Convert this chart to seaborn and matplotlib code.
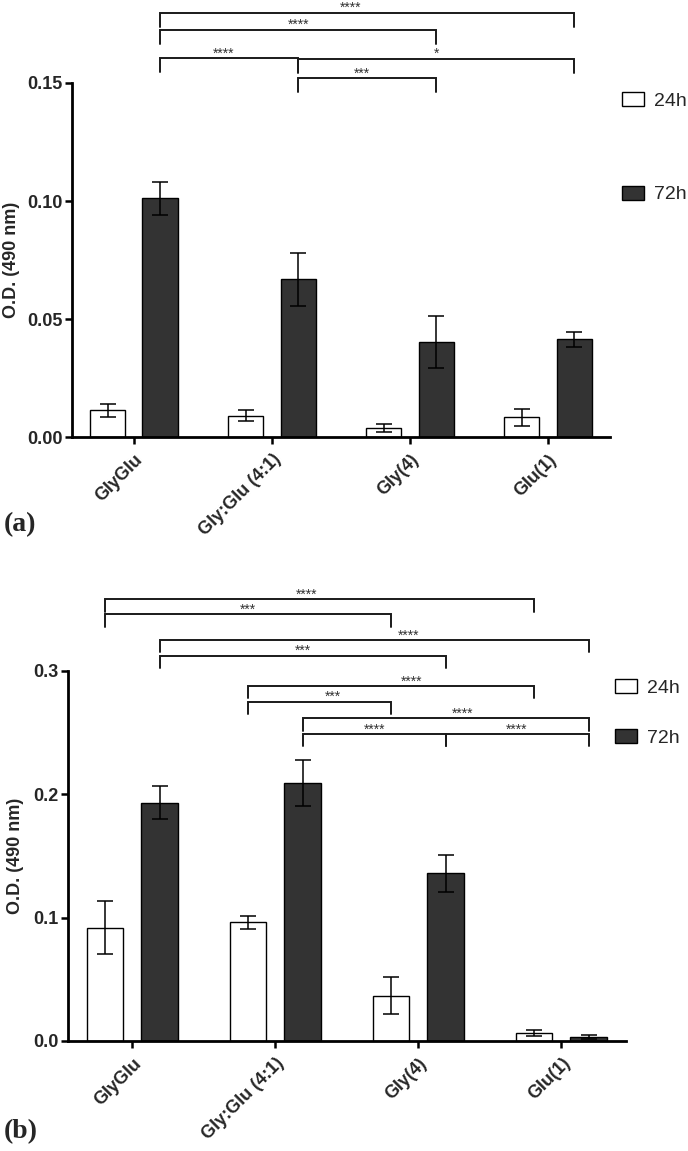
#!/usr/bin/env python3

import matplotlib
matplotlib.use('Agg')
import matplotlib.pyplot as plt  # plotting
import seaborn as sns            # bar charts
import pandas as pd              # data handling

# ---- data ----
groups = ['GlyGlu', 'Gly:Glu (4:1)', 'Gly(4)', 'Glu(1)']
times = ['24h', '72h']

a_24h = [0.0114, 0.0090, 0.0039, 0.0083]
a_24h_err = [0.0028, 0.0024, 0.0016, 0.0036]
a_72h = [0.1011, 0.0668, 0.0401, 0.0414]
a_72h_err = [0.0071, 0.0111, 0.0110, 0.0031]

b_24h = [0.0919, 0.0963, 0.0365, 0.0067]
b_24h_err = [0.0217, 0.0054, 0.0150, 0.0023]
b_72h = [0.1933, 0.2092, 0.1360, 0.0032]
b_72h_err = [0.0135, 0.0187, 0.0150, 0.0014]

# significance brackets: (group, time) -> (group, time), stars
a_pairs = [((0, '72h'), (3, '72h'), '****'),
           ((0, '72h'), (2, '72h'), '****'),
           ((0, '72h'), (1, '72h'), '****'),
           ((1, '72h'), (3, '72h'), '*'),
           ((1, '72h'), (2, '72h'), '***')]
b_pairs = [((0, '24h'), (3, '24h'), '****'),
           ((0, '24h'), (2, '24h'), '***'),
           ((0, '72h'), (3, '72h'), '****'),
           ((0, '72h'), (2, '72h'), '***'),
           ((1, '24h'), (3, '24h'), '****'),
           ((1, '24h'), (2, '24h'), '***'),
           ((1, '72h'), (3, '72h'), '****'),
           ((1, '72h'), (2, '72h'), '****'),
           ((2, '72h'), (3, '72h'), '****')]

# bracket layout (heights in data units, label nudges in group units)
a_bracket_y = [0.1797, 0.1725, 0.1606, 0.1602, 0.1521]
a_label_dx = [-0.12, 0, -0.04, 0, -0.04]
b_bracket_y = [0.3581, 0.3460, 0.3251, 0.3122, 0.2878, 0.2751, 0.2616, 0.2489, 0.2489]
b_label_dx = [-0.09, 0, 0.24, 0, 0.14, 0.09, 0.12, 0, 0]


def make_frame(v24, v72):
    return pd.DataFrame({'group': groups * 2,
                         'time': ['24h'] * len(groups) + ['72h'] * len(groups),
                         'od': v24 + v72})


def draw_panel(ax, v24, e24, v72, e72, pairs, bys, dxs, drop, xlim, ylim, ticks, fmt,
               leg_anchor, leg_spacing):
    df = make_frame(v24, v72)
    sns.barplot(data=df, x='group', y='od', hue='time', hue_order=times,
                palette={'24h': 'white', '72h': '#333333'},
                edgecolor='black', linewidth=1.0, width=0.76, gap=0.33,
                errorbar=None, legend=False, ax=ax)

    # error bars on top of each bar container
    for cont, err in zip(ax.containers, [e24, e72]):
        xs = [p.get_x() + p.get_width() / 2 for p in cont.patches]
        ys = [p.get_height() for p in cont.patches]
        ax.errorbar(xs, ys, yerr=err, fmt='none', ecolor='black',
                    elinewidth=1.1, capsize=6, capthick=1.1, zorder=5)

    # bar centre lookup for brackets
    centers = {}
    for t, cont in zip(times, ax.containers):
        for g, p in enumerate(cont.patches):
            centers[(g, t)] = p.get_x() + p.get_width() / 2

    for (k1, k2, lab), y, dx in zip(pairs, bys, dxs):
        x1, x2 = centers[k1], centers[k2]
        ax.plot([x1, x1, x2, x2], [y - drop, y, y, y - drop], color='#1a1a1a',
                lw=1.4, clip_on=False, solid_joinstyle='miter')
        ax.text((x1 + x2) / 2 + dx, y + drop * 0.05, lab, ha='center',
                va='baseline', fontsize=10, color='#333333')

    ax.set_xlim(*xlim)
    ax.set_ylim(*ylim)
    ax.set_yticks(ticks)
    ax.set_yticklabels([fmt.format(t) for t in ticks], fontweight='bold', fontsize=13)
    ax.set_xticks(range(len(groups)))
    ax.set_xticklabels(groups, rotation=45, ha='right', rotation_mode='anchor',
                       fontweight='bold', fontsize=13)
    ax.set_xlabel('')
    ax.set_ylabel('O.D. (490 nm)', fontweight='bold', fontsize=13)
    ax.tick_params(axis='both', length=5, width=1.8, pad=2, color='black')
    ax.tick_params(axis='x', pad=5)
    sns.despine(ax=ax)
    for s in ['left', 'bottom']:
        ax.spines[s].set_linewidth(2.0)
        ax.spines[s].set_color('black')

    ax.legend(ax.containers, times, loc='upper left', bbox_to_anchor=leg_anchor,
              frameon=False, fontsize=14, borderpad=0, borderaxespad=0,
              handlelength=1.13, handleheight=0.72, handletextpad=0.5,
              labelspacing=leg_spacing)


sns.set_style('ticks')
plt.rcParams['font.family'] = ['Liberation Sans', 'DejaVu Sans']

fig = plt.figure(figsize=(6.88, 11.51), dpi=100)
ax_a = fig.add_axes([0.1052, 0.6203, 0.7808, 0.3076])
ax_b = fig.add_axes([0.0988, 0.0956, 0.8115, 0.3215])

draw_panel(ax_a, a_24h, a_24h_err, a_72h, a_72h_err, a_pairs, a_bracket_y, a_label_dx,
           0.0058, (-0.445, 3.445), (0, 0.15), [0, 0.05, 0.10, 0.15], '{:.2f}',
           (1.023, 0.974), 3.9)
draw_panel(ax_b, b_24h, b_24h_err, b_72h, b_72h_err, b_pairs, b_bracket_y, b_label_dx,
           0.0100, (-0.451, 3.454), (0, 0.3), [0, 0.1, 0.2, 0.3], '{:.1f}',
           (0.980, 0.977), 1.65)

ax_a.yaxis.set_label_coords(-0.0975, 0.5)
ax_b.yaxis.set_label_coords(-0.079, 0.5)

fig.text(0.006, 0.5334, '(a)', family='Liberation Serif', fontsize=20,
         fontweight='bold', va='bottom')
fig.text(0.006, 0.006, '(b)', family='Liberation Serif', fontsize=20,
         fontweight='bold', va='bottom')

plt.savefig('out.png', dpi=100)
